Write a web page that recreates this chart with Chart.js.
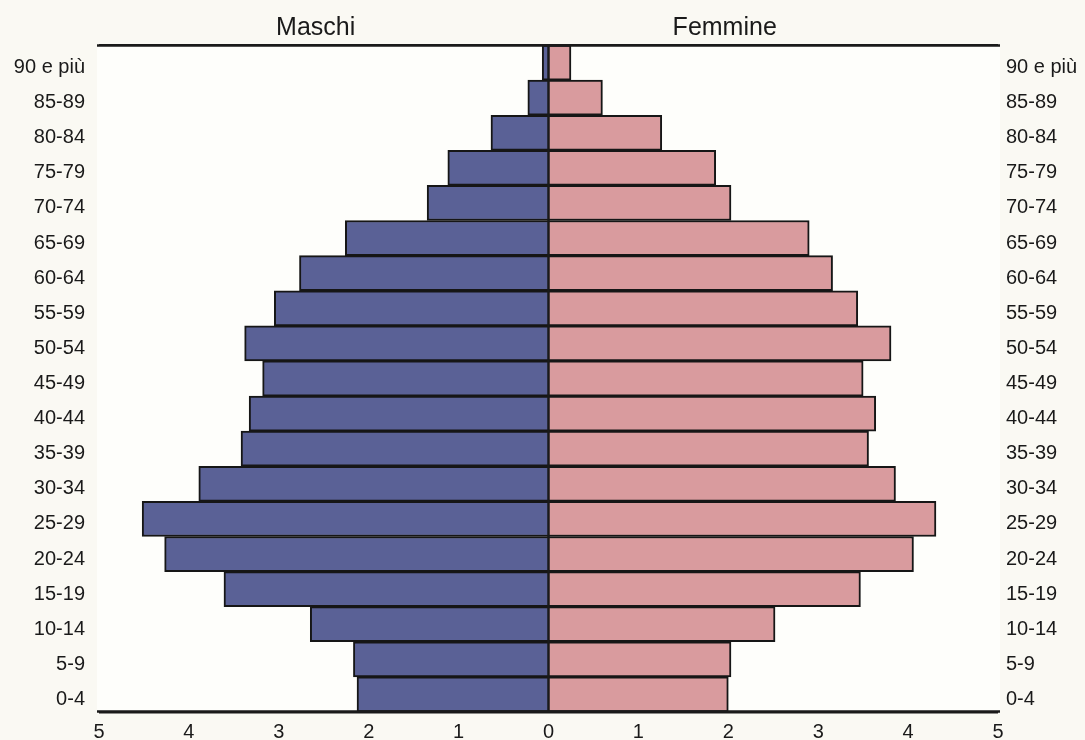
<!DOCTYPE html>
<html lang="it">
<head>
<meta charset="utf-8">
<title>Piramide delle età</title>
<script src="https://cdn.jsdelivr.net/npm/chart.js@4.4.1/dist/chart.umd.min.js"></script>
<style>
    html, body { margin: 0; padding: 0; background: #faf9f3; }
    #wrap { position: relative; width: 1085px; height: 740px; }
</style>
</head>
<body>
<div id="wrap"><canvas id="pyramidChart"></canvas></div>
<script>
    'use strict';

    // Age classes, top row first
    const ageGroups = ['90 e più', '85-89', '80-84', '75-79', '70-74', '65-69', '60-64', '55-59', '50-54',
        '45-49', '40-44', '35-39', '30-34', '25-29', '20-24', '15-19', '10-14', '5-9', '0-4'];

    // Percent of population, same order as ageGroups
    const maschi = [0.07, 0.23, 0.64, 1.12, 1.35, 2.26, 2.77, 3.05, 3.38,
        3.18, 3.33, 3.42, 3.89, 4.52, 4.27, 3.61, 2.65, 2.17, 2.13];
    const femmine = [0.25, 0.60, 1.26, 1.86, 2.03, 2.90, 3.16, 3.44, 3.81,
        3.50, 3.64, 3.56, 3.86, 4.31, 4.06, 3.47, 2.52, 2.03, 2.00];

    const axisMin = -5;
    const axisMax = 5;

    const FONT = "'Liberation Sans', Arial, sans-serif";
    const INK = '#1a1a1a';

    /**
     * White plot field behind the bars, the zero line, the outer rules and the two side headings.
     */
    const pyramidDecor = {
        id: 'pyramidDecor',
        beforeDatasetsDraw(chart) {
            const { ctx, chartArea: a } = chart;
            ctx.save();
            ctx.fillStyle = '#fefefb';
            ctx.fillRect(a.left - 2, a.top, a.right - a.left + 4, a.bottom - a.top);
            ctx.restore();
        },
        afterDatasetsDraw(chart) {
            const { ctx, chartArea: a } = chart;
            const x0 = chart.scales.x.getPixelForValue(0);
            ctx.save();
            ctx.strokeStyle = INK;
            ctx.lineWidth = 2.5;
            ctx.beginPath();
            ctx.moveTo(x0, a.top);
            ctx.lineTo(x0, a.bottom);
            ctx.stroke();
            ctx.restore();
        },
        afterDraw(chart) {
            const { ctx, chartArea: a } = chart;
            const x = chart.scales.x;

            // top and bottom rules, same weight as the row lines
            ctx.save();
            ctx.strokeStyle = INK;
            ctx.lineWidth = 2.5;
            ctx.beginPath();
            ctx.moveTo(a.left - 2, a.top + 0.5);
            ctx.lineTo(a.right + 2, a.top + 0.5);
            ctx.moveTo(a.left - 2, a.bottom - 0.5);
            ctx.lineTo(a.right + 2, a.bottom - 0.5);
            ctx.stroke();

            ctx.fillStyle = INK;
            ctx.font = '25px ' + FONT;
            ctx.textAlign = 'center';
            ctx.textBaseline = 'middle';
            ctx.fillText('Maschi', x.getPixelForValue(-2.59), 28);
            ctx.fillText('Femmine', x.getPixelForValue(1.96), 28);
            ctx.restore();
        }
    };

    const ctx = document.getElementById('pyramidChart');

    new Chart(ctx, {
        type: 'bar',
        data: {
            labels: ageGroups,
            datasets: [{
                label: 'Maschi',
                data: maschi.map(v => -v),
                backgroundColor: '#5a6196',
                borderColor: '#161616',
                borderWidth: 2,
                borderSkipped: 'start',
                barPercentage: 1.0,
                categoryPercentage: 1.0,
            }, {
                label: 'Femmine',
                data: femmine,
                backgroundColor: '#d99b9e',
                borderColor: '#161616',
                borderWidth: 2,
                borderSkipped: 'start',
                barPercentage: 1.0,
                categoryPercentage: 1.0,
            }]
        },
        options: {
            indexAxis: 'y',
            responsive: true,
            maintainAspectRatio: false,
            animation: false,
            layout: { padding: { top: 45, left: 0, right: 0, bottom: 0 } },
            scales: {
                x: {
                    min: axisMin,
                    max: axisMax,
                    stacked: true,
                    border: { display: false },
                    grid: { display: false, drawTicks: false },
                    ticks: {
                        stepSize: 1,
                        padding: 8,
                        color: INK,
                        font: { family: FONT, size: 20 },
                        callback: v => Math.abs(v)
                    },
                    afterFit: s => { s.height = 28; }
                },
                y: {
                    stacked: true,
                    z: 1,
                    border: { display: false },
                    grid: { offset: true, drawTicks: false, lineWidth: 2.5, color: INK },
                    ticks: {
                        padding: 14,
                        labelOffset: 5,
                        color: INK,
                        font: { family: FONT, size: 20 }
                    },
                    afterFit: s => { s.width = 99; }
                },
                y2: {
                    type: 'category',
                    labels: ageGroups,
                    position: 'right',
                    offset: true,
                    border: { display: false },
                    grid: { display: false, drawTicks: false },
                    ticks: {
                        padding: 8,
                        labelOffset: 5,
                        color: INK,
                        font: { family: FONT, size: 20 }
                    },
                    afterFit: s => { s.width = 87; }
                }
            },
            plugins: {
                legend: { display: false },
                tooltip: { enabled: false }
            }
        },
        plugins: [pyramidDecor]
    });
</script>
</body>
</html>
